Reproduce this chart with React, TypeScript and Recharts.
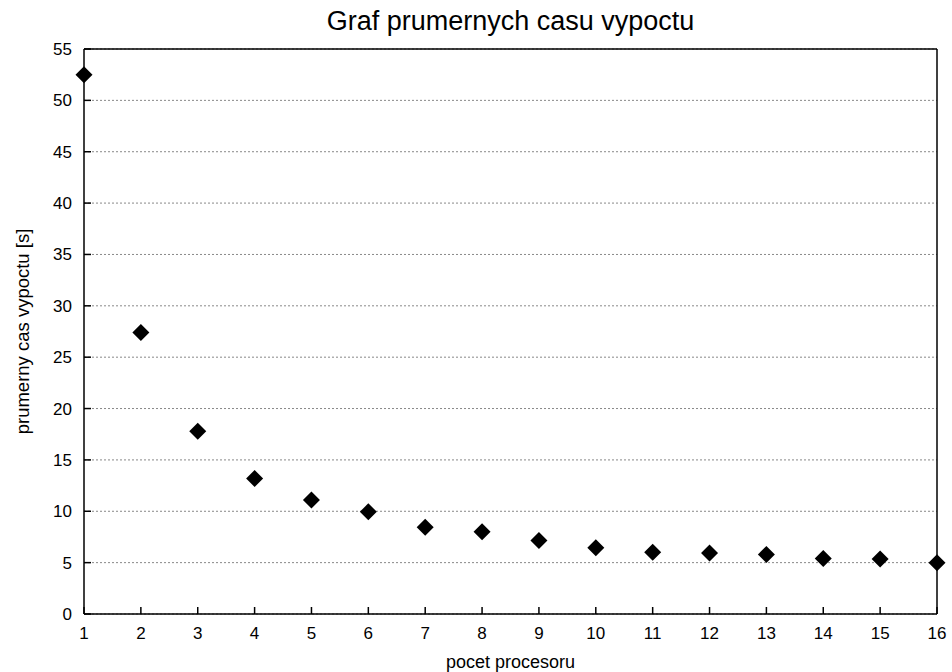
import {
  ScatterChart,
  Scatter,
  XAxis,
  YAxis,
  CartesianGrid,
} from 'recharts';

// pocet procesoru -> prumerny cas vypoctu [s]
const processors = [1, 2, 3, 4, 5, 6, 7, 8, 9, 10, 11, 12, 13, 14, 15, 16];
const avgTimes = [52.5, 27.4, 17.8, 13.2, 11.1, 9.95, 8.45, 8.0, 7.15, 6.45, 6.0, 5.95, 5.8, 5.4, 5.35, 5.0];
const yTicks = [0, 5, 10, 15, 20, 25, 30, 35, 40, 45, 50, 55];

const data = processors.map((p, i) => ({ procs: p, time: avgTimes[i] }));

const FONT = '"Liberation Sans", Arial, Helvetica, sans-serif';

// gnuplot-like filled diamond
const Diamond = (props: any) => {
  const { cx, cy } = props;
  const r = 8.5;
  return (
    <polygon
      points={`${cx},${cy - r} ${cx + r},${cy} ${cx},${cy + r} ${cx - r},${cy}`}
      fill="#000"
    />
  );
};

export default function App() {
  const axisLine = { stroke: '#000', strokeWidth: 1.5 };
  const tickLine = { stroke: '#000', strokeWidth: 1.5 };

  return (
    <div style={{ position: 'absolute', left: 0, top: 0, width: 952, height: 672, background: '#fff', fontFamily: FONT }}>
      <div
        style={{
          position: 'absolute',
          left: 84,
          width: 853,
          top: 8,
          textAlign: 'center',
          fontSize: 27,
          lineHeight: '27px',
          color: '#000',
        }}
      >
        Graf prumernych casu vypoctu
      </div>
      <ScatterChart width={952} height={672} margin={{ top: 0, right: 0, bottom: 0, left: 0 }}>
        <CartesianGrid vertical={false} stroke="#888" strokeDasharray="2 2" />
        <XAxis
          dataKey="procs"
          type="number"
          domain={[1, 16]}
          ticks={processors}
          height={58}
          axisLine={axisLine}
          tickLine={tickLine}
          tickSize={-7}
          tickMargin={20}
          tick={{ fill: '#000', fontSize: 17, fontFamily: FONT }}
          label={{ value: 'pocet procesoru', position: 'insideBottom', offset: 4, fill: '#000', fontSize: 18, fontFamily: FONT }}
        />
        <XAxis
          xAxisId="top"
          orientation="top"
          type="number"
          domain={[1, 16]}
          ticks={processors}
          height={49}
          axisLine={axisLine}
          tickLine={tickLine}
          tickSize={-7}
          tick={false}
        />
        <YAxis
          dataKey="time"
          type="number"
          domain={[0, 55]}
          ticks={yTicks}
          width={84}
          axisLine={axisLine}
          tickLine={tickLine}
          tickSize={-7}
          tickMargin={19}
          tick={{ fill: '#000', fontSize: 17, fontFamily: FONT }}
          label={{
            value: 'prumerny cas vypoctu [s]',
            angle: -90,
            position: 'insideLeft',
            offset: 22,
            fill: '#000',
            fontSize: 18.5,
            fontFamily: FONT,
            style: { textAnchor: 'middle' },
          }}
        />
        <YAxis
          yAxisId="right"
          orientation="right"
          type="number"
          domain={[0, 55]}
          ticks={yTicks}
          width={15}
          axisLine={axisLine}
          tickLine={tickLine}
          tickSize={-7}
          tick={false}
        />
        <Scatter data={data} shape={Diamond} isAnimationActive={false} />
      </ScatterChart>
    </div>
  );
}
